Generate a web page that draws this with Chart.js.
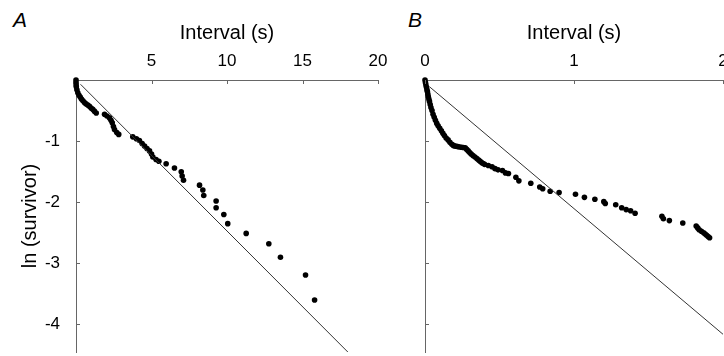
<!DOCTYPE html>
<html>
<head>
<meta charset="utf-8">
<script src="https://cdn.jsdelivr.net/npm/chart.js@4.4.1/dist/chart.umd.min.js"></script>
<style>
  body { margin: 0; width: 724px; height: 356px; overflow: hidden; background: #fff; position: relative; }
  canvas { position: absolute; top: 0; }
  #chartA { left: 0; }
  #chartB { left: 400px; }
  .panel { position: absolute; top: 8px; font: italic 21px 'Liberation Sans', Arial, sans-serif; color: #000; }
</style>
</head>
<body>
<div class="panel" style="left:13px">A</div>
<div class="panel" style="left:408px">B</div>
<canvas id="chartA" width="400" height="356"></canvas>
<canvas id="chartB" width="360" height="356"></canvas>
<script>
// Panel A data (interval in s, ln survivor)
const aInterval = [0, 0.0, 0.01, 0.02, 0.06, 0.12, 0.2, 0.28, 0.36, 0.46, 0.56, 0.66, 0.78, 0.89, 1.0, 1.11, 1.22, 1.34,
  1.89, 2.05, 2.22, 2.32, 2.4, 2.48, 2.55, 2.7, 2.83,
  3.76, 4.0, 4.2, 4.38, 4.54, 4.7, 4.87, 5.0, 5.09, 5.3, 5.49, 5.97, 6.52, 6.97, 7.03, 7.12,
  8.18, 8.4, 8.46, 9.28, 9.28, 9.79, 10.05, 11.27, 12.77, 13.54, 15.2, 15.8];
const aLnSurv = [0, -0.04, -0.08, -0.11, -0.16, -0.21, -0.25, -0.28, -0.31, -0.34, -0.37, -0.39, -0.41, -0.43, -0.46, -0.48, -0.51, -0.54,
  -0.56, -0.59, -0.62, -0.66, -0.7, -0.76, -0.81, -0.86, -0.89,
  -0.93, -0.96, -0.99, -1.04, -1.08, -1.12, -1.16, -1.21, -1.26, -1.3, -1.33, -1.37, -1.44, -1.5, -1.57, -1.64,
  -1.72, -1.8, -1.89, -1.98, -2.09, -2.2, -2.35, -2.51, -2.68, -2.9, -3.19, -3.6];
const aFitX = [0.3, 18.0];
const aFitY = [-0.07, -4.45];

// Panel B data
const bInterval = [0, 0.003, 0.006, 0.01, 0.013, 0.016, 0.019, 0.022, 0.026, 0.03, 0.035, 0.04, 0.047, 0.054, 0.062, 0.07,
  0.079, 0.088, 0.099, 0.11, 0.12, 0.13, 0.142, 0.155, 0.167, 0.18, 0.19, 0.2, 0.21, 0.22, 0.232, 0.245, 0.257, 0.27,
  0.28, 0.29, 0.3, 0.31, 0.322, 0.335, 0.348, 0.36, 0.37, 0.38, 0.39, 0.4, 0.425, 0.45, 0.47, 0.49, 0.52, 0.54, 0.56,
  0.61, 0.63, 0.71, 0.77, 0.79, 0.84, 0.9, 1.01, 1.07, 1.14, 1.2, 1.21, 1.28, 1.32, 1.35, 1.38, 1.41,
  1.59, 1.6, 1.64, 1.73, 1.82, 1.83, 1.84, 1.855, 1.87, 1.88, 1.89, 1.9, 1.91];
const bLnSurv = [0, -0.04, -0.08, -0.12, -0.16, -0.19, -0.23, -0.27, -0.31, -0.35, -0.4, -0.45, -0.5, -0.56, -0.61, -0.66,
  -0.71, -0.75, -0.79, -0.83, -0.87, -0.91, -0.95, -0.98, -1.02, -1.05, -1.07, -1.08, -1.085, -1.09, -1.095, -1.1, -1.105, -1.11,
  -1.135, -1.16, -1.185, -1.21, -1.235, -1.26, -1.285, -1.31, -1.33, -1.35, -1.365, -1.38, -1.4, -1.42, -1.45, -1.47, -1.48, -1.52, -1.53,
  -1.59, -1.65, -1.69, -1.75, -1.78, -1.82, -1.84, -1.87, -1.92, -1.95, -1.99, -2.02, -2.04, -2.09, -2.12, -2.14, -2.18,
  -2.23, -2.27, -2.3, -2.34, -2.39, -2.42, -2.45, -2.475, -2.5, -2.52, -2.54, -2.56, -2.58];
const bFitX = [0.03, 2.0];
const bFitY = [-0.11, -4.16];

// Tick values
const aXTicks = [5, 10, 15, 20];
const bXTicks = [0, 1, 2];
const yTicks = [-1, -2, -3, -4];

const fontFamily = "'Liberation Sans', Arial, sans-serif";
const axisColor = '#666';

function toPoints(xs, ys) {
    return xs.map((x, i) => ({ x: x, y: ys[i] }));
}

// fixed scale sizes so the plot area lands where it should
function fixSize(prop, size) {
    return function (scale) {
        scale[prop] = size;
        scale.paddingTop = 0;
        scale.paddingBottom = 0;
        scale.paddingLeft = 0;
        scale.paddingRight = 0;
    };
}

// small tick marks pointing into the plot
const innerTicks = {
    id: 'innerTicks',
    afterDraw(chart, args, opts) {
        const ctx = chart.ctx;
        const { left, top } = chart.chartArea;
        ctx.save();
        ctx.strokeStyle = axisColor;
        ctx.lineWidth = 1;
        opts.x.forEach(v => {
            const px = Math.round(chart.scales.x.getPixelForValue(v)) + 0.5;
            ctx.beginPath();
            ctx.moveTo(px, top);
            ctx.lineTo(px, top + 4);
            ctx.stroke();
        });
        opts.y.forEach(v => {
            const py = Math.round(chart.scales.y.getPixelForValue(v)) + 0.5;
            ctx.beginPath();
            ctx.moveTo(left, py);
            ctx.lineTo(left + 4, py);
            ctx.stroke();
        });
        ctx.restore();
    }
};

function makeChart(id, cfg) {
    const ctx = document.getElementById(id).getContext('2d');
    return new Chart(ctx, {
        type: 'scatter',
        data: {
            datasets: [{
                type: 'line',
                data: toPoints(cfg.fitX, cfg.fitY),
                borderColor: '#333',
                borderWidth: 1,
                pointRadius: 0,
                fill: false
            }, {
                data: toPoints(cfg.xs, cfg.ys),
                pointRadius: 2.8,
                pointBackgroundColor: '#000',
                pointBorderWidth: 0,
                clip: false
            }]
        },
        plugins: [innerTicks],
        options: {
            responsive: false,
            animation: false,
            layout: { padding: { left: 0, top: 0, right: cfg.padRight, bottom: 0 } },
            plugins: {
                legend: { display: false },
                tooltip: { enabled: false },
                innerTicks: { x: cfg.xTicks, y: yTicks }
            },
            scales: {
                x: {
                    type: 'linear',
                    position: 'top',
                    min: cfg.xMin,
                    max: cfg.xMax,
                    afterBuildTicks: s => { s.ticks = cfg.xTicks.map(v => ({ value: v })); },
                    afterFit: fixSize('height', 80),
                    grid: { display: false },
                    border: { display: true, color: axisColor, width: 1 },
                    ticks: { color: '#000', padding: 0, maxRotation: 0, font: { family: fontFamily, size: 17 } },
                    title: {
                        display: true,
                        text: 'Interval (s)',
                        color: '#000',
                        padding: { top: 21, bottom: 0 },
                        font: { family: fontFamily, size: 20 }
                    }
                },
                y: {
                    type: 'linear',
                    min: -4.45,
                    max: 0,
                    afterBuildTicks: s => { s.ticks = yTicks.map(v => ({ value: v })); },
                    afterFit: fixSize('width', cfg.yWidth),
                    grid: { display: false },
                    border: { display: true, color: axisColor, width: 1 },
                    ticks: { display: cfg.yLabels, color: '#000', padding: 8, font: { family: fontFamily, size: 17 } },
                    title: {
                        display: cfg.yLabels,
                        text: 'ln (survivor)',
                        color: '#000',
                        padding: { top: 18, bottom: 0 },
                        font: { family: fontFamily, size: 20 }
                    }
                }
            }
        }
    });
}

makeChart('chartA', {
    xs: aInterval, ys: aLnSurv, fitX: aFitX, fitY: aFitY,
    xMin: 0, xMax: 20, xTicks: aXTicks,
    yWidth: 76, yLabels: true, padRight: 22
});

makeChart('chartB', {
    xs: bInterval, ys: bLnSurv, fitX: bFitX, fitY: bFitY,
    xMin: 0, xMax: 2, xTicks: bXTicks,
    yWidth: 25, yLabels: false, padRight: 37
});
</script>
</body>
</html>
